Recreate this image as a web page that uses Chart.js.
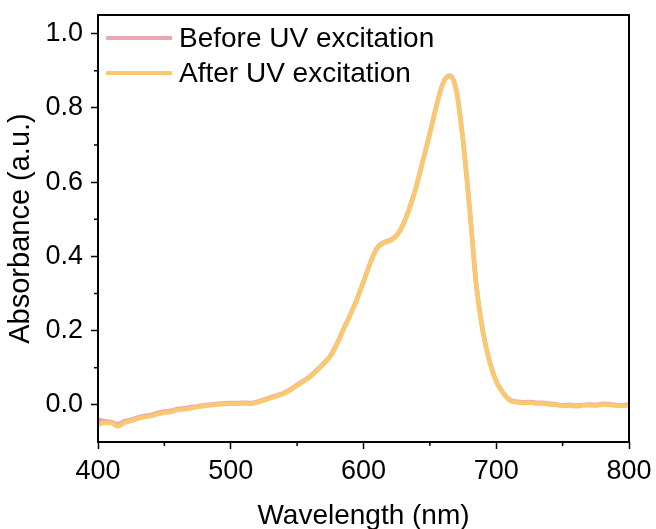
<!DOCTYPE html>
<html>
<head>
<meta charset="utf-8">
<script src="https://cdn.jsdelivr.net/npm/chart.js@4"></script>
<style>
  html, body { margin: 0; padding: 0; background: #fff; }
  #wrap { width: 656px; height: 529px; }
</style>
</head>
<body>
<div id="wrap"><canvas id="chart" width="656" height="529"></canvas></div>
<script>
// wavelength grid (nm)
const wavelengths = [];
for (let w = 400; w <= 800; w += 5) wavelengths.push(w);

// absorbance after UV excitation
const afterUV = [
  -0.054, -0.048, -0.049, -0.058, -0.048, -0.043, -0.037, -0.033, -0.030, -0.025,
  -0.021, -0.019, -0.014, -0.012, -0.009, -0.006, -0.003, -0.001, 0.001, 0.002,
  0.003, 0.003, 0.004, 0.003, 0.006, 0.012, 0.018, 0.024, 0.030, 0.040,
  0.052, 0.063, 0.076, 0.092, 0.110, 0.130, 0.163, 0.203, 0.241, 0.283,
  0.330, 0.380, 0.420, 0.435, 0.442, 0.455, 0.485, 0.532, 0.590, 0.660,
  0.730, 0.805, 0.866, 0.885, 0.845, 0.710, 0.525, 0.320, 0.195, 0.115,
  0.062, 0.032, 0.012, 0.007, 0.005, 0.006, 0.004, 0.004, 0.001, 0.000,
  -0.003, -0.002, -0.004, -0.002, -0.001, -0.002, 0.001, 0.000, -0.002, -0.003,
  -0.001
];

// absorbance before UV excitation
const beforeUV = [
  -0.040, -0.044, -0.046, -0.052, -0.044, -0.040, -0.034, -0.030, -0.027, -0.022,
  -0.018, -0.016, -0.011, -0.009, -0.006, -0.004, -0.001, 0.001, 0.003, 0.004,
  0.005, 0.005, 0.006, 0.005, 0.008, 0.014, 0.020, 0.026, 0.032, 0.042,
  0.054, 0.065, 0.078, 0.094, 0.112, 0.132, 0.165, 0.205, 0.243, 0.285,
  0.332, 0.382, 0.422, 0.437, 0.444, 0.457, 0.487, 0.534, 0.592, 0.662,
  0.732, 0.807, 0.868, 0.887, 0.847, 0.712, 0.527, 0.322, 0.197, 0.117,
  0.064, 0.034, 0.014, 0.009, 0.007, 0.008, 0.006, 0.006, 0.003, 0.002,
  -0.001, 0.000, -0.002, 0.000, 0.001, 0.000, 0.003, 0.002, 0.000, -0.001,
  0.001
];

const seriesLabels = ['Before UV excitation', 'After UV excitation'];
const xTicks = [400, 500, 600, 700, 800];
const yTicks = [0.0, 0.2, 0.4, 0.6, 0.8, 1.0];

const pink = '#eba8b2';
const yellow = '#f9c96f';
const FONT = 'Liberation Sans, Arial, sans-serif';

const pts = vals => wavelengths.map((w, i) => ({ x: w, y: vals[i] }));

// frame, minor ticks and the in-plot legend
const extras = {
  id: 'extras',
  afterDraw(chart) {
    const { ctx, chartArea: a, scales } = chart;
    ctx.save();
    ctx.strokeStyle = '#000';
    ctx.lineWidth = 2;
    ctx.strokeRect(a.left, a.top, a.right - a.left, a.bottom - a.top);

    ctx.lineWidth = 1.5;
    ctx.beginPath();
    for (let v = 450; v < 800; v += 100) {
      const px = scales.x.getPixelForValue(v);
      ctx.moveTo(px, a.bottom); ctx.lineTo(px, a.bottom + 4);
    }
    for (let k = 1; k <= 9; k += 2) {
      const py = scales.y.getPixelForValue(k / 10);
      ctx.moveTo(a.left, py); ctx.lineTo(a.left - 4, py);
    }
    ctx.stroke();

    // legend
    const cols = [pink, yellow];
    ctx.font = '28px ' + FONT;
    ctx.textBaseline = 'middle';
    seriesLabels.forEach((lab, i) => {
      const y = a.top + 23 + i * 35;
      ctx.strokeStyle = cols[i];
      ctx.lineWidth = 4;
      ctx.beginPath();
      ctx.moveTo(a.left + 8, y); ctx.lineTo(a.left + 74, y);
      ctx.stroke();
      ctx.fillStyle = '#000';
      ctx.fillText(lab, a.left + 81, y + 1);
    });
    ctx.restore();
  }
};

new Chart(document.getElementById('chart'), {
  type: 'line',
  data: {
    datasets: [
      // yellow first so it is drawn on top
      { label: seriesLabels[1], data: pts(afterUV), borderColor: yellow, borderWidth: 4.5, pointRadius: 0, cubicInterpolationMode: 'monotone' },
      { label: seriesLabels[0], data: pts(beforeUV), borderColor: pink, borderWidth: 4.5, pointRadius: 0, cubicInterpolationMode: 'monotone' }
    ]
  },
  options: {
    responsive: false,
    animation: false,
    layout: { padding: { top: 15, right: 27, left: 0, bottom: 0 } },
    plugins: { legend: { display: false }, tooltip: { enabled: false } },
    scales: {
      x: {
        type: 'linear',
        min: 400, max: 800,
        afterFit: s => { s.height = 87; s.paddingLeft = 0; s.paddingRight = 0; },
        border: { display: false },
        grid: { drawOnChartArea: false, tickLength: 7, tickWidth: 1.5, tickColor: '#000',
                color: ctx => xTicks.includes(ctx.tick && ctx.tick.value) ? '#000' : 'rgba(0,0,0,0)' },
        ticks: { stepSize: 100, color: '#000', padding: 6, maxRotation: 0,
                 font: { family: FONT, size: 27 } },
        title: { display: true, text: 'Wavelength (nm)', color: '#000', padding: { top: 12, bottom: -4 },
                 font: { family: FONT, size: 28 } }
      },
      y: {
        min: -0.1, max: 1.05,
        afterFit: s => { s.width = 98; s.paddingTop = 0; s.paddingBottom = 0; },
        border: { display: false },
        grid: { drawOnChartArea: false, tickLength: 7, tickWidth: 1.5,
                tickColor: ctx => {
                  const v = Math.round(ctx.tick.value * 10);
                  return (v >= 0 && v % 2 === 0) ? '#000' : 'rgba(0,0,0,0)';
                } },
        ticks: { stepSize: 0.1, includeBounds: false, color: '#000', padding: 8,
                 font: { family: FONT, size: 27 },
                 callback: v => {
                   const r = Math.round(v * 10);
                   if (r < 0 || r % 2 !== 0) return '';
                   return yTicks.includes(r / 10) ? (r / 10).toFixed(1) : '';
                 } },
        title: { display: true, text: 'Absorbance (a.u.)', color: '#000', padding: { bottom: 2 },
                 font: { family: FONT, size: 29 } }
      }
    }
  },
  plugins: [extras]
});
</script>
</body>
</html>
